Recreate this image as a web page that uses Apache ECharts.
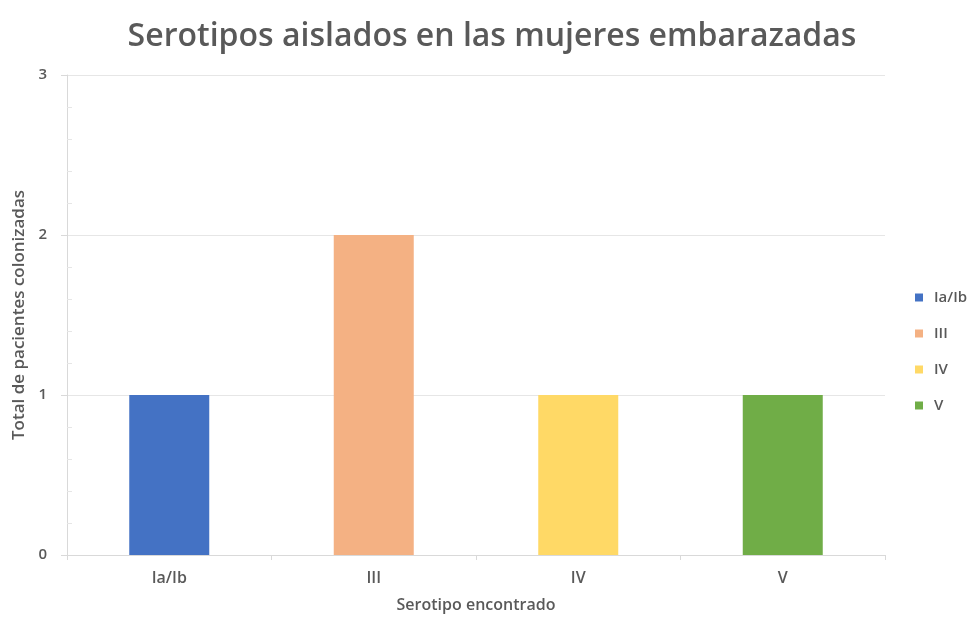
<!DOCTYPE html>
<html>
<head>
<meta charset="utf-8">
<script src="https://cdn.jsdelivr.net/npm/echarts@6/dist/echarts.min.js"></script>
<style>
  body { margin: 0; background: #fff; }
  #chart { width: 971px; height: 620px; }
</style>
</head>
<body>
<div id="chart"></div>
<script>
const categorias = ["Ia/Ib", "III", "IV", "V"];
const totales = [1, 2, 1, 1];
const colores = ["#4472c4", "#f4b183", "#ffd966", "#70ad47"];
const ticksY = [0, 1, 2, 3];

const fuente = "'Open Sans', sans-serif";

// one series per serotype so the legend shows each one
const series = categorias.map((cat, i) => ({
  name: cat,
  type: "bar",
  stack: "total",
  barWidth: 80,
  itemStyle: { color: colores[i] },
  data: categorias.map((c, j) => (j === i ? totales[i] : null)),
}));

const chart = echarts.init(document.getElementById("chart"));
chart.setOption({
  animation: false,
  title: {
    text: "Serotipos aislados en las mujeres embarazadas",
    left: 487,
    textAlign: "center",
    top: 16,
    textStyle: { fontFamily: fuente, fontSize: 32, fontWeight: 600, color: "#595959" },
  },
  legend: {
    orient: "vertical",
    left: 910,
    top: 285,
    itemWidth: 8,
    itemHeight: 8,
    itemGap: 21,
    icon: "rect",
    textStyle: { fontFamily: fuente, fontSize: 15, fontWeight: 600, color: "#595959", padding: [0, 0, 0, 6] },
    data: categorias,
  },
  grid: { left: 67, right: 86, top: 75, bottom: 65 },
  xAxis: {
    type: "category",
    data: categorias,
    name: "Serotipo encontrado",
    nameLocation: "middle",
    nameGap: 42,
    nameTextStyle: { fontFamily: fuente, fontSize: 16, fontWeight: 600, color: "#595959" },
    axisLine: { lineStyle: { color: "#d9d9d9" } },
    axisTick: { show: true, length: 5, lineStyle: { color: "#d9d9d9" } },
    axisLabel: { fontFamily: fuente, fontSize: 16, fontWeight: 600, color: "#595959", margin: 15 },
  },
  yAxis: {
    type: "value",
    min: ticksY[0],
    max: ticksY[ticksY.length - 1],
    interval: 1,
    name: "Total de pacientes colonizadas",
    nameLocation: "middle",
    nameGap: 38,
    nameTextStyle: { fontFamily: fuente, fontSize: 17, fontWeight: 600, color: "#595959" },
    axisLine: { show: true, lineStyle: { color: "#d9d9d9" } },
    axisTick: { show: true, length: 6, lineStyle: { color: "#d9d9d9" } },
    minorTick: { show: true, splitNumber: 5, length: -5, lineStyle: { color: "#e6e6e6" } },
    axisLabel: { fontFamily: fuente, fontSize: 15, fontWeight: 600, color: "#595959", margin: 20 },
    splitLine: { lineStyle: { color: "#e6e6e6" } },
  },
  series: series,
});
</script>
</body>
</html>
